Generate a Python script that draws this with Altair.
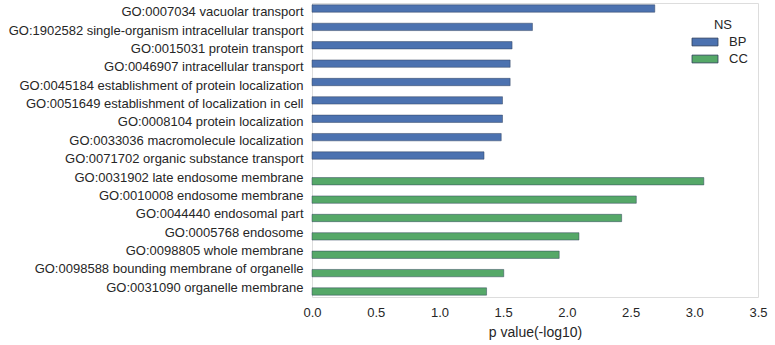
import altair as alt
import pandas as pd

terms = [
    "GO:0007034 vacuolar transport",
    "GO:1902582 single-organism intracellular transport",
    "GO:0015031 protein transport",
    "GO:0046907 intracellular transport",
    "GO:0045184 establishment of protein localization",
    "GO:0051649 establishment of localization in cell",
    "GO:0008104 protein localization",
    "GO:0033036 macromolecule localization",
    "GO:0071702 organic substance transport",
    "GO:0031902 late endosome membrane",
    "GO:0010008 endosome membrane",
    "GO:0044440 endosomal part",
    "GO:0005768 endosome",
    "GO:0098805 whole membrane",
    "GO:0098588 bounding membrane of organelle",
    "GO:0031090 organelle membrane",
]
ns = ["BP"] * 9 + ["CC"] * 7
pvals = [2.69, 1.73, 1.57, 1.555, 1.555, 1.495, 1.495, 1.485, 1.35,
         3.075, 2.545, 2.43, 2.095, 1.94, 1.505, 1.37]

df = pd.DataFrame({"term": terms, "NS": ns, "p": pvals})

FONT = "Liberation Sans"
TXT = "#262626"

chart = alt.Chart(df).mark_bar(stroke="#2f3f5a", strokeWidth=0.8, strokeOpacity=0.6).encode(
    y=alt.Y("term:N", sort=terms,
            scale=alt.Scale(paddingInner=0.2, paddingOuter=0.1),
            axis=alt.Axis(title=None, ticks=False, domain=False, grid=False,
                          labelPadding=9, labelFontSize=13, labelFont=FONT,
                          labelColor=TXT, labelLimit=400)),
    yOffset=alt.YOffset("NS:N", sort=["BP", "CC"], scale=alt.Scale(paddingInner=0, paddingOuter=0)),
    x=alt.X("p:Q", scale=alt.Scale(domain=[0, 3.5], nice=False),
            axis=alt.Axis(title="p value(-log10)", values=[0, 0.5, 1, 1.5, 2, 2.5, 3, 3.5],
                          format=".1f", ticks=False, domain=False, grid=False,
                          labelPadding=9, labelFontSize=13, labelFont=FONT,
                          labelColor=TXT, titleFont=FONT, titleFontSize=14,
                          titleFontWeight="normal", titleColor=TXT, titlePadding=6,
                          labelFlush=False)),
    color=alt.Color("NS:N", scale=alt.Scale(domain=["BP", "CC"], range=["#4C72B0", "#55A868"]),
                    legend=alt.Legend(title="NS", orient="none", legendX=386, legendY=16,
                                      titleAnchor="middle", titleFont=FONT, titleFontSize=13,
                                      titleFontWeight="normal", titleColor=TXT, titlePadding=3,
                                      labelFont=FONT, labelFontSize=13, labelColor=TXT,
                                      symbolType="M-2,-0.6L2,-0.6L2,0.6L-2,0.6Z", symbolSize=169,
                                      symbolStrokeWidth=0.8, labelOffset=17, rowPadding=3)),
).properties(
    width=446, height=294,
    autosize=alt.AutoSizeParams(type="none"),
    padding={"left": 312, "top": 3, "right": 17, "bottom": 48},
).configure_view(stroke=None).configure(background="white")

chart.save("out.html", embed_options={"renderer": "svg", "actions": False})
